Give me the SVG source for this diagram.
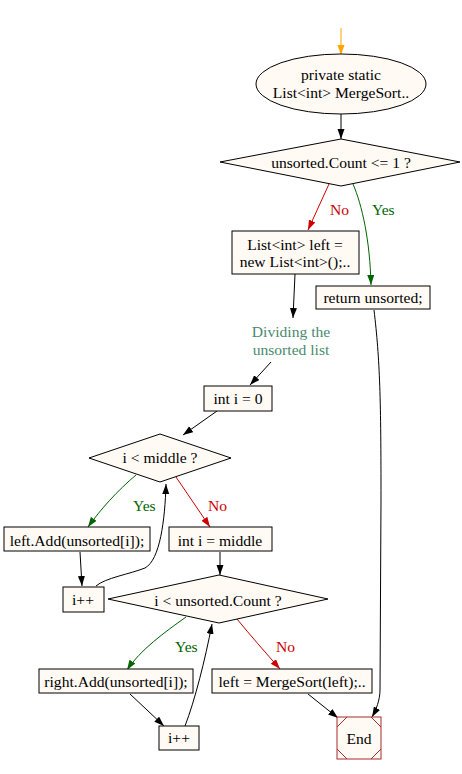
<svg xmlns="http://www.w3.org/2000/svg" width="462" height="774" viewBox="0 0 462 774">
<style>
text{font-family:"Liberation Serif","Times New Roman",serif;font-size:15.6px;text-anchor:middle;fill:#000}
.n{fill:#fffaf4;stroke:#000;stroke-width:1}
.e{fill:none;stroke:#000;stroke-width:1}
.r{stroke:#cc0000}.g{stroke:#006400}.o{stroke:#ffa500}
.lr{fill:#cc0000;text-anchor:start}.lg{fill:#006400;text-anchor:start}
.note{fill:#4a8a6e}
</style>
<defs>
<marker id="ab" markerUnits="userSpaceOnUse" markerWidth="10" markerHeight="8" refX="10" refY="3.5" orient="auto"><path d="M0,0L10,3.5L0,7z" fill="#000"/></marker>
<marker id="ar" markerUnits="userSpaceOnUse" markerWidth="10" markerHeight="8" refX="10" refY="3.5" orient="auto"><path d="M0,0L10,3.5L0,7z" fill="#cc0000"/></marker>
<marker id="ag" markerUnits="userSpaceOnUse" markerWidth="10" markerHeight="8" refX="10" refY="3.5" orient="auto"><path d="M0,0L10,3.5L0,7z" fill="#006400"/></marker>
<marker id="ao" markerUnits="userSpaceOnUse" markerWidth="10" markerHeight="8" refX="10" refY="3.5" orient="auto"><path d="M0,0L10,3.5L0,7z" fill="#ffa500"/></marker>
</defs>
<rect width="462" height="774" fill="#fff"/>
<g id="edges">
<path class="e o" d="M341,28L341,55" marker-end="url(#ao)"/>
<path class="e" d="M341,114L341,139" marker-end="url(#ab)"/>
<path class="e r" d="M329,184L308,230" marker-end="url(#ar)"/>
<path class="e g" d="M353,184C362,205 370,240 371,285" marker-end="url(#ag)"/>
<path class="e" d="M295,274L293,318" marker-end="url(#ab)"/>
<path class="e" d="M271,362L250,385" marker-end="url(#ab)"/>
<path class="e" d="M217,411L183,435" marker-end="url(#ab)"/>
<path class="e g" d="M136,475C118,490 100,510 88,527" marker-end="url(#ag)"/>
<path class="e r" d="M176,477L210,527" marker-end="url(#ar)"/>
<path class="e" d="M80,552L82,586" marker-end="url(#ab)"/>
<path class="e" d="M96,586C105,578 130,574 145,568C160,560 165,520 166,484" marker-end="url(#ab)"/>
<path class="e" d="M220,552L220,575" marker-end="url(#ab)"/>
<path class="e g" d="M186,617C165,632 140,650 127,670" marker-end="url(#ag)"/>
<path class="e r" d="M237,619C250,635 265,652 280,669" marker-end="url(#ar)"/>
<path class="e" d="M130,694L164,726" marker-end="url(#ab)"/>
<path class="e" d="M185,726C195,700 205,660 212,624" marker-end="url(#ab)"/>
<path class="e" d="M308,694L338,718" marker-end="url(#ab)"/>
<path class="e" d="M374,310C380,360 381,400 381,500L380,690C380,700 376,710 372,717" marker-end="url(#ab)"/>
<text class="lr" x="330" y="215">No</text>
<text class="lg" x="372" y="215">Yes</text>
<text class="lg" x="133" y="511">Yes</text>
<text class="lr" x="208" y="511">No</text>
<text class="lg" x="175" y="652">Yes</text>
<text class="lr" x="276" y="652">No</text>
</g>
<g id="start">
<ellipse class="n" cx="341" cy="84" rx="85" ry="30"/>
<text x="341" y="80">private static</text>
<text x="341" y="98">List&lt;int&gt; MergeSort..</text>
</g>
<g id="cond1">
<polygon class="n" points="341,139 460,162 341,186 220,162"/>
<text x="341" y="168">unsorted.Count &lt;= 1 ?</text>
</g>
<g id="init">
<rect class="n" x="232" y="231" width="127" height="43"/>
<text x="295" y="250">List&lt;int&gt; left =</text>
<text x="295" y="267">new List&lt;int&gt;();..</text>
</g>
<g id="ret">
<rect class="n" x="316" y="286" width="114" height="23"/>
<text x="373" y="303">return unsorted;</text>
</g>
<g id="note">
<text class="note" x="291" y="337">Dividing the</text>
<text class="note" x="291" y="355">unsorted list</text>
</g>
<g id="i0">
<rect class="n" x="204" y="386" width="68" height="25"/>
<text x="238" y="404">int i = 0</text>
</g>
<g id="cond2">
<polygon class="n" points="160,434 231,458 160,482 89,458"/>
<text x="160" y="463">i &lt; middle ?</text>
</g>
<g id="leftadd">
<rect class="n" x="4" y="527" width="146" height="24"/>
<text x="77" y="546">left.Add(unsorted[i]);</text>
</g>
<g id="imid">
<rect class="n" x="169" y="527" width="103" height="24"/>
<text x="220" y="546">int i = middle</text>
</g>
<g id="inc1">
<rect class="n" x="63" y="587" width="41" height="25"/>
<text x="83" y="605">i++</text>
</g>
<g id="cond3">
<polygon class="n" points="219,575 328,599 219,623 108,599"/>
<text x="218" y="606">i &lt; unsorted.Count ?</text>
</g>
<g id="rightadd">
<rect class="n" x="39" y="669" width="154" height="24"/>
<text x="116" y="687">right.Add(unsorted[i]);</text>
</g>
<g id="merge">
<rect class="n" x="212" y="669" width="160" height="24"/>
<text x="292" y="687">left = MergeSort(left);..</text>
</g>
<g id="inc2">
<rect class="n" x="159" y="726" width="40" height="24"/>
<text x="179" y="743">i++</text>
</g>
<g id="end">
<rect x="337" y="717" width="44" height="42" fill="#fffaf4" stroke="#a52a2a"/>
<path d="M337,727L347,717M371,717L381,727M337,749L347,759M371,759L381,749" fill="none" stroke="#a52a2a"/>
<text x="359" y="744">End</text>
</g>
</svg>
